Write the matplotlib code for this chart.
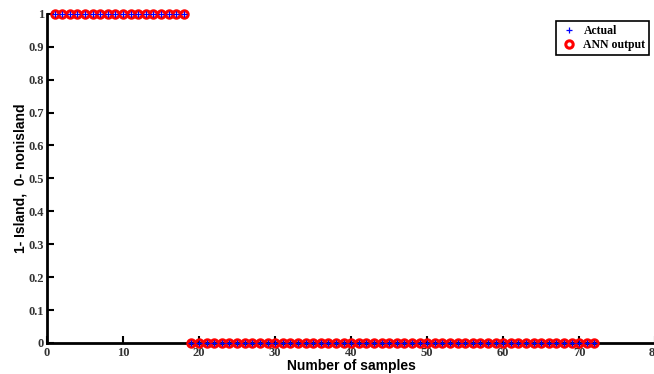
import numpy as np
import matplotlib.pyplot as plt
from matplotlib.ticker import FuncFormatter

# Sample indices and class labels (1 = island, 0 = nonisland)
samples = list(range(1, 73))
actual = [1] * 18 + [0] * 54
ann_output = [1] * 18 + [0] * 54

x_ticks = [0, 10, 20, 30, 40, 50, 60, 70, 80]
y_ticks = [0, 0.1, 0.2, 0.3, 0.4, 0.5, 0.6, 0.7, 0.8, 0.9, 1]

fig = plt.figure(figsize=(6.54, 3.74), dpi=100)
ax = fig.add_axes([0.0719, 0.083, 0.93, 0.88])

ax.plot(samples, actual, linestyle="none", marker="+", color="blue",
        markersize=4, markeredgewidth=0.9, label="Actual", zorder=4,
        clip_on=False)
ax.plot(samples, ann_output, linestyle="none", marker="o", markerfacecolor="none",
        markeredgecolor="red", markersize=5.3, markeredgewidth=2.2,
        label="ANN output", zorder=3, clip_on=False)

ax.set_xlim(0, 80)
ax.set_ylim(0, 1)
ax.set_xticks(x_ticks)
ax.set_yticks(y_ticks)
ax.yaxis.set_major_formatter(FuncFormatter(lambda v, p: "%g" % v))

for side in ["top", "right"]:
    ax.spines[side].set_visible(False)
for side in ["left", "bottom"]:
    ax.spines[side].set_linewidth(2)
    ax.spines[side].set_zorder(2)

ax.tick_params(direction="in", length=5, width=1.5, pad=2)
ax.tick_params(axis="x", pad=3)
for lbl in ax.get_xticklabels() + ax.get_yticklabels():
    lbl.set_fontfamily("Liberation Serif")
    lbl.set_fontweight("bold")
    lbl.set_fontsize(9)
    lbl.set_color("#333333")

ax.set_xlabel("Number of samples", fontfamily="Liberation Sans", fontweight="bold",
              fontsize=10, labelpad=0)
ax.set_ylabel("1- Island,  0- nonisland", fontfamily="Liberation Sans",
              fontweight="bold", fontsize=10, labelpad=1)

leg = ax.legend(loc="upper right", bbox_to_anchor=(0.9995, 0.995),
                prop={"family": "Liberation Serif", "weight": "bold", "size": 8.5},
                fancybox=False, edgecolor="black", framealpha=1,
                handletextpad=0.5, borderpad=0.3, labelspacing=0.2,
                handlelength=1.5)
leg.get_frame().set_linewidth(1.2)

fig.savefig("out.png", dpi=100)
